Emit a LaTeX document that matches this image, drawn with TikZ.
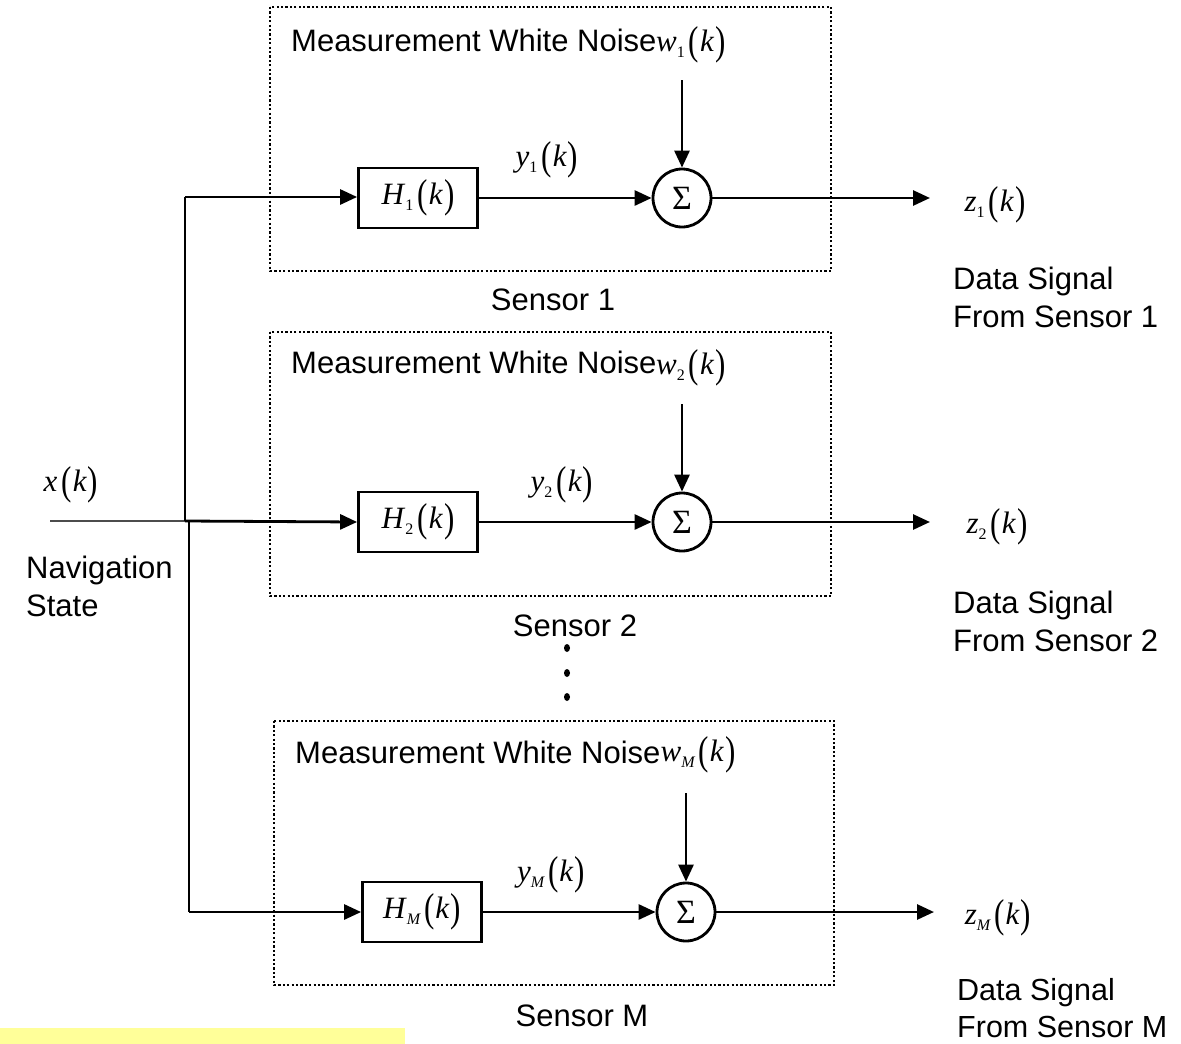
\documentclass[tikz,border=0pt]{standalone}
\usepackage{fontspec}
\setmainfont{Liberation Sans}
\newfontfamily\mathf{Liberation Serif}
\usetikzlibrary{arrows.meta}
\newcommand\sg[2]{{\mathf{\itshape #1\/}\raisebox{-0.4ex}{\fontsize{16}{16}\selectfont #2}\hspace{4pt}\raisebox{-0.1em}{\scalebox{1}[1.3]{(}}\hspace{1pt}{\itshape k\/}\hspace{1pt}\raisebox{-0.1em}{\scalebox{1}[1.3]{)}}}}
\begin{document}
\begin{tikzpicture}[x=1pt,y=-1pt,
  txt/.style={font=\fontsize{31}{38}\selectfont, inner sep=0},
  mth/.style={font=\fontsize{31}{36}\selectfont, inner sep=0},
  blk/.style={draw, line width=2.8pt, minimum width=119pt, minimum height=60pt, inner sep=0, font=\fontsize{31}{36}\selectfont},
  sumn/.style={draw, circle, line width=2.8pt, minimum size=58pt, inner sep=0, font=\fontsize{34}{36}\selectfont\mathf},
  sensor/.style={draw, line width=2.2pt, dash pattern=on 2.2pt off 2.2pt},
  sigl/.style={line width=2.8pt},
  arr/.style={sigl, -{Triangle[length=17pt,width=15pt]}}]
\useasboundingbox (0,0) rectangle (1181,1044);
\fill[fill={rgb,255:red,255;green,255;blue,153}] (0,1028) rectangle (405,1044);

% sensor boxes
\draw[sensor] (270,7) rectangle (831,271);
\draw[sensor] (270,332) rectangle (831,596);
\draw[sensor] (274,721) rectangle (834,985);

% blocks
\node[blk] (H1) at (418,198) {\sg{H}{1}};
\node[blk] (H2) at (418,522) {\sg{H}{2}};
\node[blk] (HM) at (422,912) {\sg{H}{\itshape M}};
\node[sumn] (S1) at (682,198) {\char"03A3};
\node[sumn] (S2) at (682,522) {\char"03A3};
\node[sumn] (SM) at (686,912) {\char"03A3};

% labels
\node[txt, anchor=west] (mw1) at (291,40) {Measurement White Noise};
\node[txt, anchor=west] (mw2) at (291,362) {Measurement White Noise};
\node[txt, anchor=west] (mwM) at (295,752) {Measurement White Noise};
\node[mth] (w1) at (691,45) {\sg{w}{1}};
\node[mth] (w2) at (691,368) {\sg{w}{2}};
\node[mth] (wM) at (698,755) {\sg{w}{\itshape M}};
\node[mth] (y1) at (547,160) {\sg{y}{1}};
\node[mth] (y2) at (562,485) {\sg{y}{2}};
\node[mth] (yM) at (551,875) {\sg{y}{\itshape M}};
\node[mth] (z1) at (995,205) {\sg{z}{1}};
\node[mth] (z2) at (997,527) {\sg{z}{2}};
\node[mth] (zM) at (998,918) {\sg{z}{\itshape M}};
\node[mth] (x) at (71,485) {{\mathf\itshape x\/}\hspace{4pt}{\mathf\raisebox{-0.1em}{\scalebox{1}[1.3]{(}}\hspace{1pt}{\itshape k\/}\hspace{1pt}\raisebox{-0.1em}{\scalebox{1}[1.3]{)}}}};

\node[txt] (sen1) at (553,300) {Sensor 1};
\node[txt] (sen2) at (575,626) {Sensor 2};
\node[txt] (senM) at (582,1016) {Sensor M};
\node[txt, anchor=west, align=left] (d1) at (953,297) {Data Signal\\From Sensor 1};
\node[txt, anchor=west, align=left] (d2) at (953,621) {Data Signal\\From Sensor 2};
\node[txt, anchor=west, align=left, font=\fontsize{30.5}{37}\selectfont] (dM) at (957,1008) {Data Signal\\From Sensor M};
\node[txt, anchor=west, align=left] (nav) at (26,586) {Navigation\\State};

% dots
\foreach \yy in {648,673,697} \fill (567,\yy) ellipse (3pt and 4pt);

% coordinates
\coordinate (in0) at (50,521);
\coordinate (br2) at (185,521);
\coordinate (br1) at (185,197);
\coordinate (br2b) at (189,521);
\coordinate (brM) at (189,912);
\coordinate (wt1) at (682,80);
\coordinate (wt2) at (682,404);
\coordinate (wtM) at (686,793);
\coordinate (o1) at (930,198);
\coordinate (o2) at (930,522);
\coordinate (oM) at (934,912);

% connectors
\draw[line width=1.5pt, draw=black!70] (in0) -- (br2);
\draw[sigl] (br2) -- (br1);
\draw[sigl] (br2b) -- (brM);
\draw[arr] (br1) -- (br1 -| H1.west);
\draw[arr] (br2) -- (H2.west);
\draw[arr] (brM) -- (HM.west);
\draw[arr] (H1) -- (S1);
\draw[arr] (H2) -- (S2);
\draw[arr] (HM) -- (SM);
\draw[arr] (wt1) -- (S1);
\draw[arr] (wt2) -- (S2);
\draw[arr] (wtM) -- (SM);
\draw[arr] (S1) -- (o1);
\draw[arr] (S2) -- (o2);
\draw[arr] (SM) -- (oM);
\end{tikzpicture}
\end{document}
